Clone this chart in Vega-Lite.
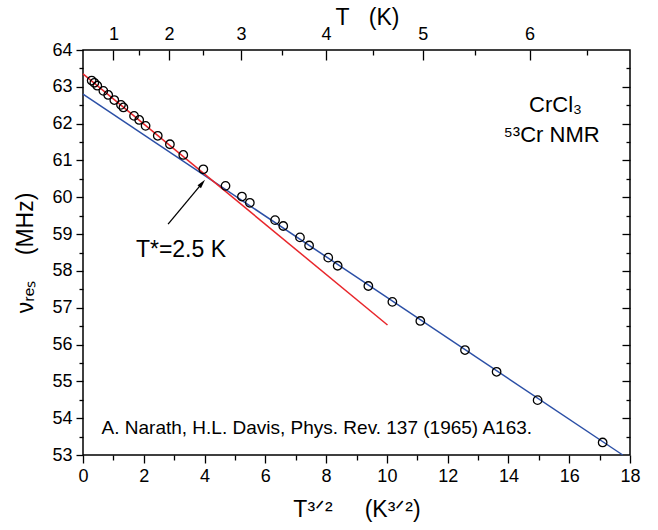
{
  "$schema": "https://vega.github.io/schema/vega-lite/v6.json",
  "width": 547,
  "height": 405,
  "autosize": {"type": "none"},
  "padding": {"left": 83, "top": 50, "right": 28, "bottom": 75},
  "background": "white",
  "config": {
    "font": "Liberation Sans",
    "view": {"stroke": "black", "strokeWidth": 1.5},
    "axis": {
      "domain": false, "grid": false, "tickColor": "black", "tickWidth": 1.3,
      "labelColor": "black", "titleColor": "black",
      "labelFont": "Liberation Sans", "titleFont": "Liberation Sans",
      "labelFontSize": 18, "titleFontSize": 23, "titleFontWeight": "normal",
      "labelOverlap": false
    }
  },
  "datasets": {
    "nmr": [
      {"t32": 0.285, "nu": 63.17}, {"t32": 0.373, "nu": 63.11}, {"t32": 0.47, "nu": 63.03},
      {"t32": 0.67, "nu": 62.89}, {"t32": 0.83, "nu": 62.78}, {"t32": 1.03, "nu": 62.64},
      {"t32": 1.25, "nu": 62.51}, {"t32": 1.33, "nu": 62.44}, {"t32": 1.68, "nu": 62.21},
      {"t32": 1.85, "nu": 62.10}, {"t32": 2.06, "nu": 61.94}, {"t32": 2.46, "nu": 61.67},
      {"t32": 2.86, "nu": 61.44}, {"t32": 3.30, "nu": 61.15}, {"t32": 3.96, "nu": 60.76},
      {"t32": 4.69, "nu": 60.31}, {"t32": 5.23, "nu": 60.02}, {"t32": 5.49, "nu": 59.85},
      {"t32": 6.32, "nu": 59.38}, {"t32": 6.59, "nu": 59.22}, {"t32": 7.14, "nu": 58.91},
      {"t32": 7.44, "nu": 58.69}, {"t32": 8.07, "nu": 58.36}, {"t32": 8.38, "nu": 58.14},
      {"t32": 9.39, "nu": 57.59}, {"t32": 10.18, "nu": 57.16}, {"t32": 11.10, "nu": 56.64},
      {"t32": 12.57, "nu": 55.85}, {"t32": 13.61, "nu": 55.26}, {"t32": 14.96, "nu": 54.49},
      {"t32": 17.10, "nu": 53.34}
    ],
    "redfit": [{"t32": 0, "nu": 63.35}, {"t32": 10.02, "nu": 56.53}],
    "bluefit": [{"t32": 0, "nu": 62.80}, {"t32": 17.76, "nu": 53.0}],
    "arrow": [{"t32": 2.80, "nu": 59.27, "t32_end": 3.91, "nu_end": 60.37}],
    "arrowhead": [{"t32": 3.91, "nu": 60.37}],
    "labels_right": [
      {"t32": 16.42, "nu": 62.51, "label": "CrCl₃"},
      {"t32": 17.0, "nu": 61.69, "label": "⁵³Cr NMR"}
    ],
    "label_tstar": [{"t32": 1.74, "nu": 58.57, "label": "T*=2.5 K"}],
    "label_ref": [{"t32": 0.61, "nu": 53.73, "label": "A. Narath, H.L. Davis, Phys. Rev. 137 (1965) A163."}],
    "ttop": [{"T": 1}, {"T": 6}],
    "tick_dummy": [{"v": 0}]
  },
  "layer": [
    {
      "layer": [
        {
          "data": {"name": "bluefit"},
          "mark": {"type": "line", "color": "#2b4fa6", "strokeWidth": 1.5},
          "encoding": {
            "x": {"field": "t32", "type": "quantitative", "scale": {"domain": [0, 18], "nice": false, "zero": false}, "axis": null},
            "y": {"field": "nu", "type": "quantitative", "scale": {"domain": [53, 64], "nice": false, "zero": false}, "axis": null}
          }
        },
        {
          "data": {"name": "redfit"},
          "mark": {"type": "line", "color": "#e8262b", "strokeWidth": 1.5},
          "encoding": {
            "x": {"field": "t32", "type": "quantitative", "axis": null},
            "y": {"field": "nu", "type": "quantitative", "axis": null}
          }
        },
        {
          "data": {"name": "nmr"},
          "mark": {"type": "point", "shape": "circle", "size": 72, "filled": false, "stroke": "black", "strokeWidth": 1.3, "opacity": 1},
          "encoding": {
            "x": {"field": "t32", "type": "quantitative", "axis": null},
            "y": {"field": "nu", "type": "quantitative", "axis": null}
          }
        },
        {
          "data": {"name": "arrow"},
          "mark": {"type": "rule", "color": "black", "strokeWidth": 1.3},
          "encoding": {
            "x": {"field": "t32", "type": "quantitative", "axis": null},
            "y": {"field": "nu", "type": "quantitative", "axis": null},
            "x2": {"field": "t32_end"},
            "y2": {"field": "nu_end"}
          }
        },
        {
          "data": {"name": "arrowhead"},
          "mark": {"type": "point", "shape": "M0,-1L0.45,0.8L-0.45,0.8Z", "filled": true, "color": "black", "size": 100, "angle": 40, "opacity": 1},
          "encoding": {
            "x": {"field": "t32", "type": "quantitative", "axis": null},
            "y": {"field": "nu", "type": "quantitative", "axis": null}
          }
        },
        {
          "data": {"name": "labels_right"},
          "mark": {"type": "text", "align": "right", "baseline": "middle", "fontSize": 22, "color": "black", "font": "Liberation Sans"},
          "encoding": {
            "x": {"field": "t32", "type": "quantitative", "axis": null},
            "y": {"field": "nu", "type": "quantitative", "axis": null},
            "text": {"field": "label"}
          }
        },
        {
          "data": {"name": "label_tstar"},
          "mark": {"type": "text", "align": "left", "baseline": "middle", "fontSize": 23, "color": "black", "font": "Liberation Sans"},
          "encoding": {
            "x": {"field": "t32", "type": "quantitative", "axis": null},
            "y": {"field": "nu", "type": "quantitative", "axis": null},
            "text": {"field": "label"}
          }
        },
        {
          "data": {"name": "label_ref"},
          "mark": {"type": "text", "align": "left", "baseline": "middle", "fontSize": 19, "color": "black", "font": "Liberation Sans"},
          "encoding": {
            "x": {"field": "t32", "type": "quantitative", "axis": null},
            "y": {"field": "nu", "type": "quantitative", "axis": null},
            "text": {"field": "label"}
          }
        }
      ]
    },
    {
      "data": {"name": "tick_dummy"},
      "mark": {"type": "point", "opacity": 0},
      "encoding": {
        "x": {
          "field": "v", "type": "quantitative",
          "scale": {"domain": [0, 18], "nice": false, "zero": false},
          "axis": {"orient": "bottom", "values": [0, 2, 4, 6, 8, 10, 12, 14, 16, 18], "title": "T³ᐟ²\u00a0\u00a0\u00a0\u00a0\u00a0(K³ᐟ²)", "tickSize": 8, "labelPadding": 4, "titlePadding": 13, "labelFlush": false, "labelOverlap": false}
        },
        "y": {
          "field": "v", "type": "quantitative",
          "scale": {"domain": [53, 64], "nice": false, "zero": false},
          "axis": {"orient": "left", "values": [53, 54, 55, 56, 57, 58, 59, 60, 61, 62, 63, 64], "title": "νᵣₑₛ\u00a0\u00a0\u00a0\u00a0(MHz)", "tickSize": 7, "labelPadding": 4, "titlePadding": 14, "labelFlush": false, "labelOverlap": false}
        }
      }
    },
    {
      "data": {"name": "ttop"},
      "mark": {"type": "point", "opacity": 0},
      "encoding": {
        "x": {
          "field": "T", "type": "quantitative",
          "scale": {"type": "pow", "exponent": 1.5, "domain": [0, 6.8683], "nice": false, "zero": false},
          "axis": {"orient": "top", "values": [1, 2, 3, 4, 5, 6], "title": "T\u00a0\u00a0\u00a0(K)", "titleX": 284, "titleAlign": "center", "tickSize": -10, "labelPadding": 17, "titlePadding": -4, "labelFlush": false, "labelOverlap": false}
        }
      }
    },
    {
      "data": {"name": "ttop"},
      "mark": {"type": "point", "opacity": 0},
      "encoding": {
        "x": {
          "field": "T", "type": "quantitative",
          "scale": {"type": "pow", "exponent": 1.5, "domain": [0, 6.8683], "nice": false, "zero": false},
          "axis": {"orient": "top", "values": [1.5, 2.5, 3.5, 4.5, 5.5, 6.5], "title": null, "labels": false, "tickSize": -5}
        }
      }
    },
    {
      "data": {"name": "tick_dummy"},
      "mark": {"type": "point", "opacity": 0},
      "encoding": {
        "x": {
          "field": "v", "type": "quantitative",
          "scale": {"domain": [0, 18], "nice": false, "zero": false},
          "axis": {"orient": "bottom", "values": [1, 3, 5, 7, 9, 11, 13, 15, 17], "title": null, "labels": false, "tickSize": 5}
        }
      }
    },
    {
      "data": {"name": "tick_dummy"},
      "mark": {"type": "point", "opacity": 0},
      "encoding": {
        "y": {
          "field": "v", "type": "quantitative",
          "scale": {"domain": [53, 64], "nice": false, "zero": false},
          "axis": {"orient": "left", "values": [53.5, 54.5, 55.5, 56.5, 57.5, 58.5, 59.5, 60.5, 61.5, 62.5, 63.5], "title": null, "labels": false, "tickSize": 4}
        }
      }
    },
    {
      "data": {"name": "tick_dummy"},
      "mark": {"type": "point", "opacity": 0},
      "encoding": {
        "y": {
          "field": "v", "type": "quantitative",
          "scale": {"domain": [53, 64], "nice": false, "zero": false},
          "axis": {"orient": "right", "values": [53.5, 54.5, 55.5, 56.5, 57.5, 58.5, 59.5, 60.5, 61.5, 62.5, 63.5], "title": null, "labels": false, "tickSize": -4}
        }
      }
    },
    {
      "data": {"name": "tick_dummy"},
      "mark": {"type": "point", "opacity": 0},
      "encoding": {
        "y": {
          "field": "v", "type": "quantitative",
          "scale": {"domain": [53, 64], "nice": false, "zero": false},
          "axis": {"orient": "right", "values": [54, 55, 56, 57, 58, 59, 60, 61, 62, 63], "title": null, "labels": false, "tickSize": -8}
        }
      }
    }
  ],
  "resolve": {"scale": {"x": "independent", "y": "independent"}, "axis": {"x": "independent", "y": "independent"}}
}
